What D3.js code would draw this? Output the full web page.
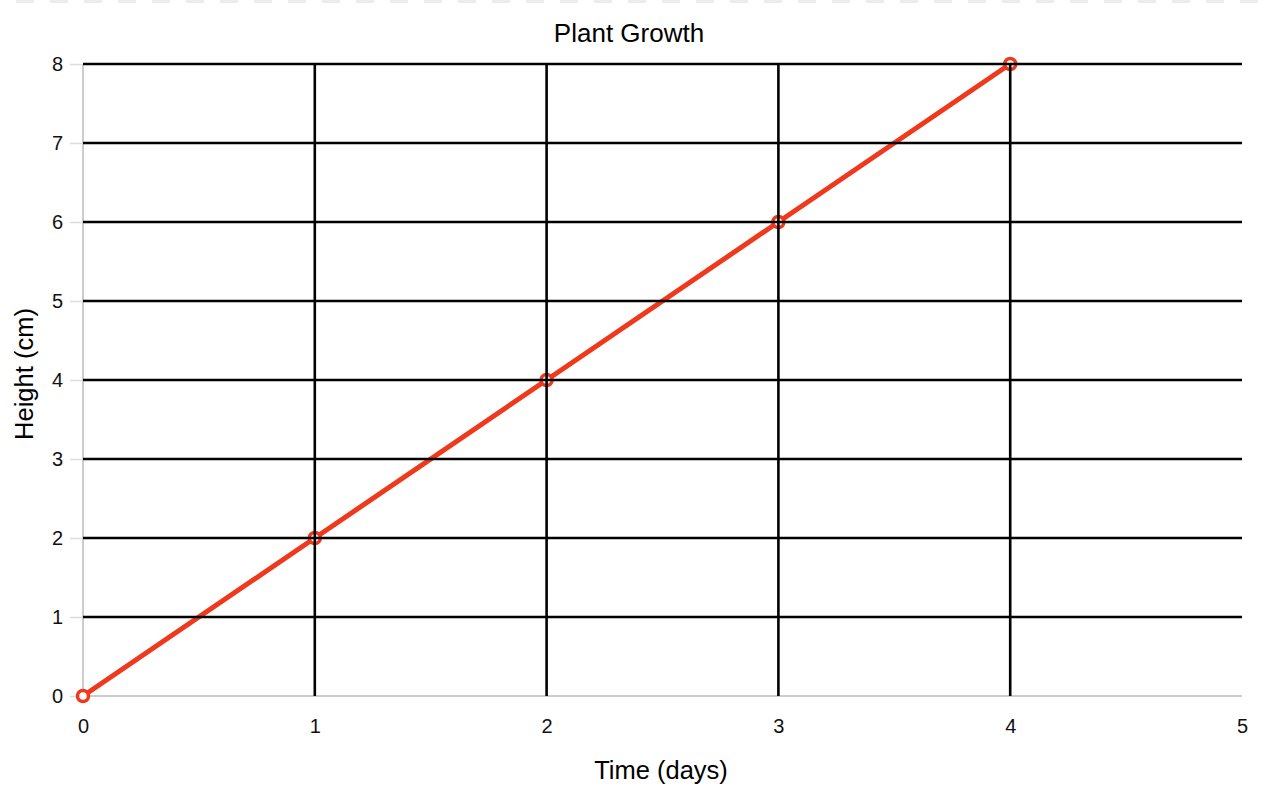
<!DOCTYPE html>
<html>
<head>
<meta charset="utf-8">
<script src="https://cdn.jsdelivr.net/npm/d3@7"></script>
<style>
  html, body { margin: 0; padding: 0; background: #fff; }
  svg { display: block; font-family: "Liberation Sans", Arial, Helvetica, sans-serif; }
</style>
</head>
<body>
<script>
const days = [0, 1, 2, 3, 4];
const heights = [0, 2, 4, 6, 8];
const xTicks = [0, 1, 2, 3, 4, 5];
const yTicks = [0, 1, 2, 3, 4, 5, 6, 7, 8];
const chartTitle = "Plant Growth";
const xTitle = "Time (days)";
const yTitle = "Height (cm)";

const W = 1267, H = 788;
const margin = { left: 83, right: 25, top: 64, bottom: 92 };

const svg = d3.select("body").append("svg").attr("width", W).attr("height", H);

// faint dashed strip at top
svg.append("line")
  .attr("x1", 0).attr("x2", W).attr("y1", 1.5).attr("y2", 1.5)
  .attr("stroke", "#ececec").attr("stroke-width", 3)
  .attr("stroke-dasharray", "18,16").attr("stroke-dashoffset", "-16");

const x = d3.scaleLinear().domain([0, 5]).range([margin.left, W - margin.right]);
const y = d3.scaleLinear().domain([0, 8]).range([H - margin.bottom, margin.top]);

// gray axis lines
svg.append("line")
  .attr("x1", x(0)).attr("x2", x(0)).attr("y1", y(8)).attr("y2", y(0))
  .attr("stroke", "#bdbdbd").attr("stroke-width", 1.5);
svg.append("line")
  .attr("x1", x(0)).attr("x2", x(5)).attr("y1", y(0)).attr("y2", y(0))
  .attr("stroke", "#bdbdbd").attr("stroke-width", 1.5);

// y axis (ticks + labels)
const yAxis = svg.append("g")
  .attr("transform", `translate(${x(0)},0)`)
  .call(d3.axisLeft(y).tickValues(yTicks).tickSize(13).tickPadding(7).tickFormat(d3.format("d")));
yAxis.select(".domain").remove();
yAxis.selectAll(".tick line").attr("stroke", "#dcdcdc").attr("stroke-width", 1.5);
yAxis.selectAll(".tick text").attr("font-size", 20).attr("fill", "#111")
  .style("font-family", "'Liberation Sans', Arial, sans-serif");

// x axis labels
const xAxis = svg.append("g")
  .attr("transform", `translate(0,${y(0)})`)
  .call(d3.axisBottom(x).tickValues(xTicks).tickSize(0).tickPadding(23).tickFormat(d3.format("d")));
xAxis.select(".domain").remove();
xAxis.selectAll(".tick text").attr("font-size", 20).attr("fill", "#111")
  .style("font-family", "'Liberation Sans', Arial, sans-serif");

// line + markers
const line = d3.line().x((d, i) => x(days[i])).y(d => y(d));
svg.append("path")
  .datum(heights)
  .attr("d", line)
  .attr("fill", "none")
  .attr("stroke", "#f0381c")
  .attr("stroke-width", 5)
  .attr("stroke-linejoin", "round");

svg.selectAll("circle.pt")
  .data(heights)
  .enter().append("circle")
  .attr("class", "pt")
  .attr("cx", (d, i) => x(days[i]))
  .attr("cy", d => y(d))
  .attr("r", 5.5)
  .attr("fill", "#fff")
  .attr("stroke", "#f0381c")
  .attr("stroke-width", 3.5);

// black gridlines on top
svg.append("g").selectAll("line")
  .data(yTicks.filter(d => d > 0))
  .enter().append("line")
  .attr("x1", x(0)).attr("x2", x(5))
  .attr("y1", d => y(d)).attr("y2", d => y(d))
  .attr("stroke", "#000").attr("stroke-width", 2.6);

svg.append("g").selectAll("line")
  .data(xTicks.filter(d => d > 0 && d < 5))
  .enter().append("line")
  .attr("x1", d => x(d)).attr("x2", d => x(d))
  .attr("y1", y(8)).attr("y2", y(0))
  .attr("stroke", "#000").attr("stroke-width", 2.6);

// titles
svg.append("text")
  .attr("x", 629).attr("y", 42)
  .attr("text-anchor", "middle")
  .attr("font-size", 26).attr("fill", "#000")
  .text(chartTitle);

svg.append("text")
  .attr("x", 661).attr("y", 779)
  .attr("text-anchor", "middle")
  .attr("font-size", 25.5).attr("fill", "#000")
  .text(xTitle);

svg.append("text")
  .attr("transform", "translate(33,374) rotate(-90)")
  .attr("text-anchor", "middle")
  .attr("font-size", 25.5).attr("fill", "#000")
  .text(yTitle);
</script>
</body>
</html>
